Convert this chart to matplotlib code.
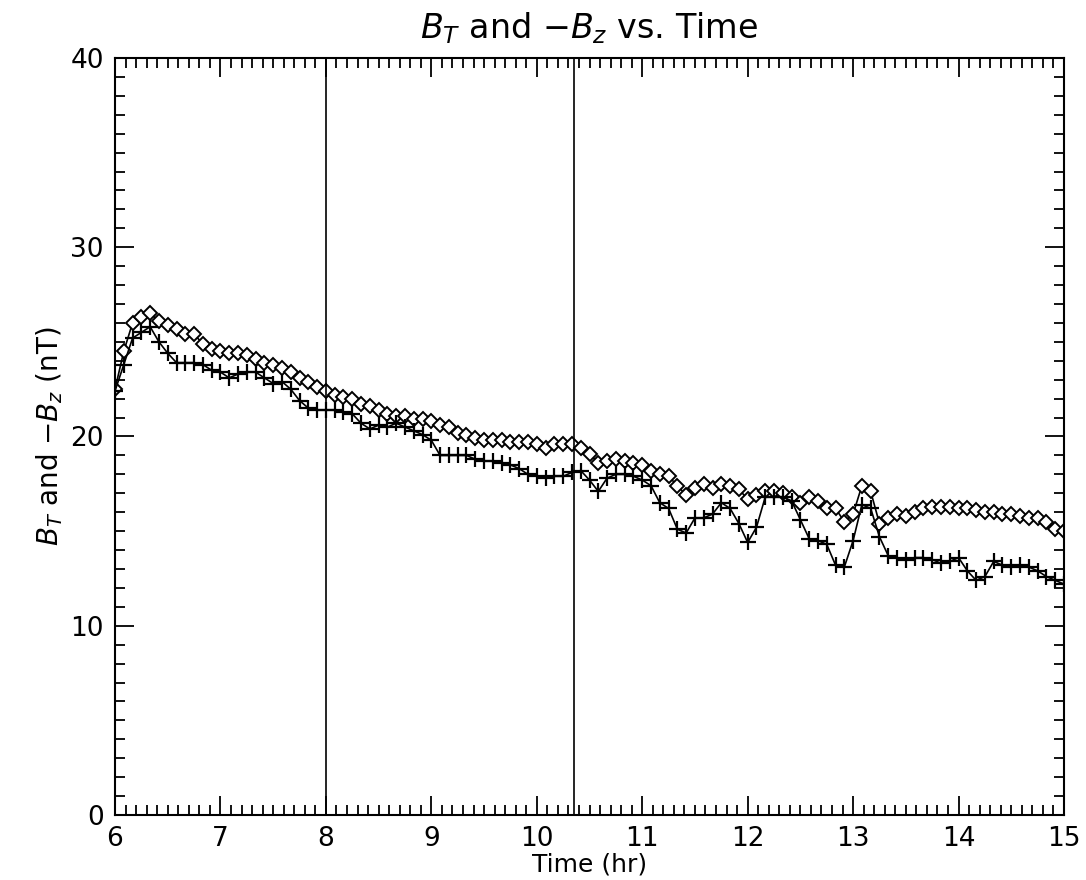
import numpy as np
import matplotlib
matplotlib.use("Agg")
import matplotlib.pyplot as plt
from matplotlib.ticker import MultipleLocator

# 5-minute samples from 6:00 to 15:00
time_hr = 6 + np.arange(109) / 12.0

# B_T (diamonds)
b_total = [22.5, 24.5, 26.0, 26.3, 26.5, 26.1, 25.9, 25.7, 25.4, 25.4,
           24.9, 24.6, 24.5, 24.4, 24.4, 24.3, 24.1, 23.9, 23.8, 23.6,
           23.4, 23.1, 22.9, 22.6, 22.4, 22.2, 22.1, 22.0, 21.7, 21.6,
           21.4, 21.2, 21.1, 21.1, 20.9, 20.9, 20.8, 20.6, 20.5, 20.2,
           20.1, 19.9, 19.8, 19.8, 19.8, 19.7, 19.7, 19.7, 19.6, 19.4,
           19.6, 19.6, 19.6, 19.4, 19.1, 18.6, 18.7, 18.8, 18.7, 18.6,
           18.5, 18.2, 18.0, 17.9, 17.4, 16.9, 17.3, 17.5, 17.3, 17.5,
           17.4, 17.2, 16.7, 16.9, 17.1, 17.1, 17.0, 16.8, 16.5, 16.8,
           16.6, 16.2, 16.2, 15.5, 15.9, 17.4, 17.1, 15.4, 15.7, 15.9,
           15.8, 16.0, 16.2, 16.3, 16.3, 16.3, 16.2, 16.2, 16.1, 16.0,
           16.0, 15.9, 15.9, 15.8, 15.7, 15.7, 15.5, 15.1, 15.0]

# -B_z (plus signs)
minus_bz = [22.4, 23.8, 25.2, 25.5, 25.8, 25.0, 24.4, 23.9, 23.9, 23.9,
            23.8, 23.5, 23.4, 23.1, 23.3, 23.4, 23.4, 23.1, 22.8, 22.9,
            22.5, 21.9, 21.5, 21.4, 21.4, 21.4, 21.3, 21.2, 20.7, 20.4,
            20.6, 20.5, 20.7, 20.5, 20.3, 20.1, 19.8, 19.0, 19.0, 19.0,
            19.0, 18.8, 18.7, 18.7, 18.6, 18.5, 18.3, 18.0, 17.9, 17.8,
            17.9, 17.9, 18.1, 18.2, 17.7, 17.1, 17.8, 18.0, 18.0, 17.9,
            17.7, 17.4, 16.5, 16.2, 15.1, 14.9, 15.7, 15.7, 15.9, 16.5,
            16.2, 15.4, 14.4, 15.2, 16.8, 16.8, 16.8, 16.6, 15.6, 14.6,
            14.5, 14.3, 13.2, 13.1, 14.5, 16.4, 16.2, 14.7, 13.7, 13.6,
            13.5, 13.6, 13.6, 13.5, 13.3, 13.4, 13.6, 12.9, 12.4, 12.6,
            13.4, 13.2, 13.1, 13.2, 13.1, 12.9, 12.6, 12.4, 12.2]

event_lines = [8.0, 10.35]

plt.rcParams['mathtext.fontset'] = 'dejavusans'

fig = plt.figure(figsize=(10.86, 8.8), dpi=100)
ax = fig.add_axes([115 / 1086, 1 - 815 / 880, (1064 - 115) / 1086, (815 - 58) / 880])

ax.plot(time_hr, b_total, color='black', linewidth=1.2, marker='D',
        markersize=7.5, markerfacecolor='white', markeredgecolor='black',
        markeredgewidth=1.4)
ax.plot(time_hr, minus_bz, color='black', linewidth=1.2, marker='+',
        markersize=12, markeredgewidth=1.6)

for t in event_lines:
    ax.axvline(t, color='black', linewidth=1.2)

ax.set_xlim(6, 15)
ax.set_ylim(0, 40)
ax.xaxis.set_major_locator(MultipleLocator(1))
ax.xaxis.set_minor_locator(MultipleLocator(0.1))
ax.yaxis.set_major_locator(MultipleLocator(10))
ax.yaxis.set_minor_locator(MultipleLocator(1))
ax.tick_params(which='both', direction='in', top=True, right=True,
               labelsize=19, width=1.3)
ax.tick_params(which='major', length=14, pad=8)
ax.tick_params(which='minor', length=7)
for s in ax.spines.values():
    s.set_linewidth(1.5)

ax.set_xlabel("Time (hr)", fontsize=18, labelpad=0)
ax.set_ylabel(r"$B_T$ and $-B_z$ (nT)", fontsize=20, labelpad=4)
ax.set_title(r"$B_T$ and $-B_z$ vs. Time", fontsize=24, pad=14)

fig.savefig("out.png", dpi=100)
